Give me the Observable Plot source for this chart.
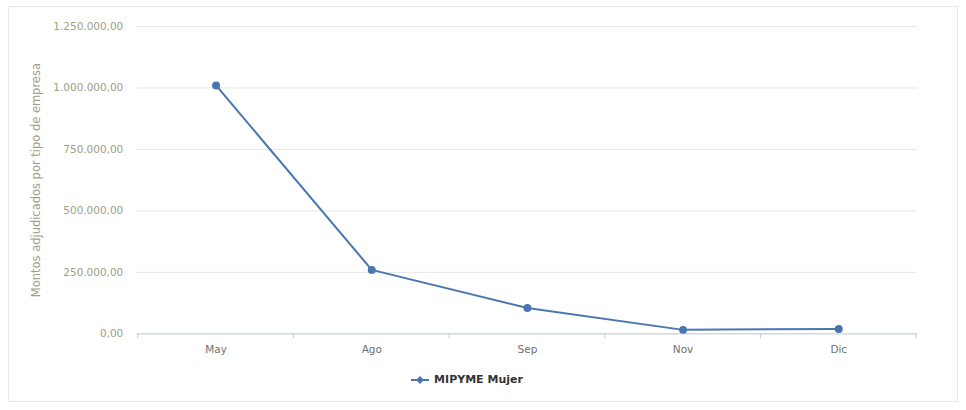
<!DOCTYPE html>
<html>
<head>
<meta charset="utf-8">
<script src="https://cdn.jsdelivr.net/npm/d3@7"></script>
<script src="https://cdn.jsdelivr.net/npm/@observablehq/plot@0.6"></script>
<style>
  html, body { margin: 0; padding: 0; background: #fff; }
  body { width: 966px; height: 410px; overflow: hidden; font-family: "DejaVu Sans", "Liberation Sans", sans-serif; }
  #frame { position: absolute; left: 8px; top: 6px; width: 950px; height: 396px; border: 1px solid #e8e8e8; box-sizing: border-box; }
  #chart { position: absolute; left: 0; top: 0; }
  #legend { position: absolute; left: 0; top: 366px; width: 950px; display: flex; justify-content: center; align-items: center; padding-right: 34px; box-sizing: border-box; font-size: 11px; font-weight: bold; color: #333; }
  #legend svg { margin-right: 5px; }
</style>
</head>
<body>
<div id="frame">
  <div id="chart"></div>
  <div id="legend"></div>
</div>
<script>
const meses = ["May", "Ago", "Sep", "Nov", "Dic"];
const montos = [1010000, 260000, 105000, 16000, 20000];
const yTicks = [0, 250000, 500000, 750000, 1000000, 1250000];
const serie = "MIPYME Mujer";
const yTitulo = "Montos adjudicados por tipo de empresa";

const data = meses.map((m, i) => ({mes: m, monto: montos[i]}));
const loc = d3.formatLocale({decimal: ",", thousands: ".", grouping: [3], currency: ["", ""]});
const fmt = loc.format(",.2f");
const azul = "#4a76b0";

const boundaries = (index, scales, values, dims) => {
  const x = scales.x;
  const bw = x.bandwidth ? x.bandwidth() : (dims.width - dims.marginLeft - dims.marginRight) / meses.length;
  const y0 = dims.height - dims.marginBottom;
  const g = d3.create("svg:g");
  const xs = meses.map(m => x(m)).concat([x(meses[meses.length - 1]) + bw]);
  xs.forEach(px => {
    g.append("line").attr("x1", px).attr("x2", px).attr("y1", y0).attr("y2", y0 + 5)
      .attr("stroke", "#c0d0e0");
  });
  return g.node();
};

const plot = Plot.plot({
  width: 950,
  height: 360,
  marginLeft: 128,
  marginRight: 40,
  marginTop: 19,
  marginBottom: 33,
  style: {fontFamily: "DejaVu Sans, Liberation Sans, sans-serif", fontSize: "11px", background: "transparent"},
  x: {type: "band", domain: meses, padding: 0, label: null},
  y: {domain: [0, 1250000], label: null},
  marks: [
    Plot.gridY(yTicks, {stroke: "#e6e6e6", strokeOpacity: 1}),
    Plot.axisY(yTicks, {tickSize: 0, tickPadding: 14, tickFormat: fmt, color: "#9e9e86", fontSize: 10.5}),
    Plot.axisY({ticks: [], tickSize: 0, label: yTitulo, labelAnchor: "center", labelOffset: 106, labelArrow: "none", color: "#9e9e86", fontSize: 11.5}),
    Plot.axisX({tickSize: 0, tickPadding: 12, label: null, color: "#707070", fontSize: 10.5}),
    Plot.ruleY([0], {stroke: "#c0d0e0"}),
    boundaries,
    Plot.line(data, {x: "mes", y: "monto", stroke: azul, strokeWidth: 2}),
    Plot.dot(data, {x: "mes", y: "monto", r: 4, fill: azul, stroke: "none"})
  ]
});
document.getElementById("chart").appendChild(plot);

const leg = document.getElementById("legend");
leg.innerHTML = `<svg width="18" height="12"><line x1="0" x2="18" y1="6" y2="6" stroke="${azul}" stroke-width="2"/><path d="M9,2 L13,6 L9,10 L5,6 Z" fill="${azul}"/></svg><span>${serie}</span>`;
</script>
</body>
</html>
